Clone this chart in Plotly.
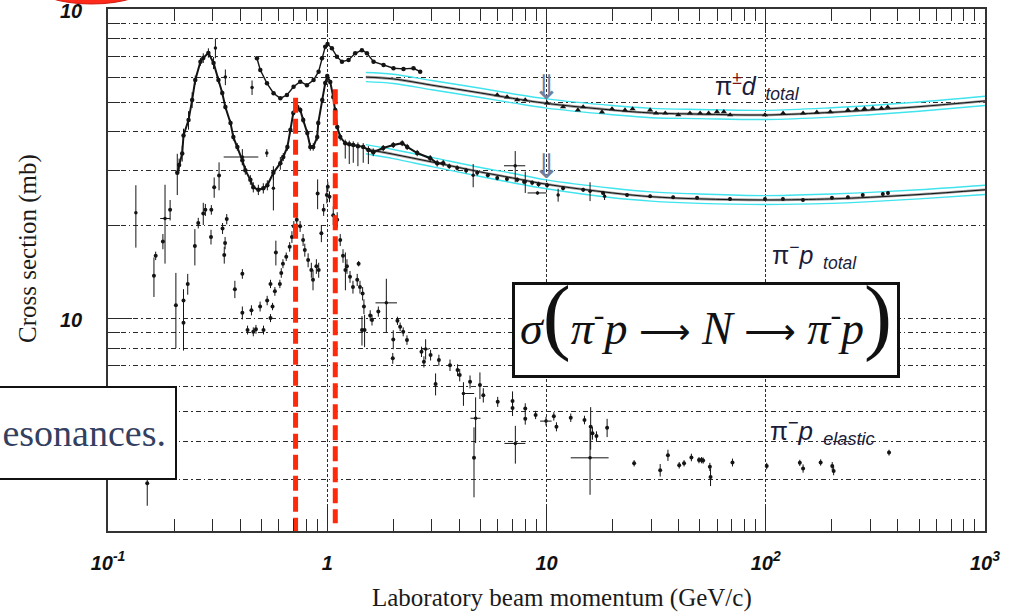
import math
import plotly.graph_objects as go

# ---------------- data ----------------
# pi- p total cross section, dense low-energy part (GeV/c, mb)
pim_tot_p = [0.207, 0.211, 0.218, 0.221, 0.233, 0.242, 0.250, 0.264, 0.272, 0.287,
             0.303, 0.319, 0.332, 0.343, 0.362, 0.373, 0.389, 0.410, 0.423, 0.446,
             0.460, 0.485, 0.511, 0.533, 0.568, 0.611, 0.630, 0.658, 0.679, 0.700,
             0.730, 0.753, 0.777, 0.811, 0.837, 0.863, 0.900, 0.910, 0.949, 0.979,
             1.000, 1.032, 1.065, 1.088, 1.111, 1.146, 1.208, 1.26, 1.314, 1.38,
             1.459, 1.54, 1.621, 1.800, 2.000, 2.197, 2.315, 2.572, 2.948, 3.172,
             3.379]
pim_tot_sig = [29.5, 31.3, 34.1, 39.0, 43.7, 50.8, 58.9, 67.5, 69.4, 72.1,
               66.9, 58.9, 53.5, 48.2, 42.8, 38.5, 35.8, 32.4, 30.1, 28.0,
               26.5, 26.0, 26.3, 26.9, 29.5, 31.7, 33.2, 35.8, 40.6, 46.1,
               48.2, 47.1, 43.7, 39.7, 35.8, 35.8, 38.5, 42.8, 50.8, 57.6,
               60.7, 58.0, 51.9, 47.1, 41.5, 38.5, 36.8, 36.5, 36.3, 36.0,
               35.8, 35.0, 34.4, 35.5, 36.3, 36.8, 35.8, 34.2, 32.9, 31.7,
               31.7]
pim_tot_err_dn = [4.5, 1.5, 2.0, 2.0, 3.0, 3.0, 2.0, 2.0, 2.5, 2.5,
                  3.0, 1.5, 1.0, 1.0, 1.0, 1.0, 1.0, 1.0, 1.0, 1.0,
                  1.0, 1.0, 1.0, 1.0, 1.5, 1.5, 1.0, 1.0, 1.0, 1.0,
                  1.0, 1.0, 1.0, 1.0, 1.0, 1.0, 1.0, 1.0, 1.0, 1.0,
                  1.0, 1.0, 1.0, 1.0, 1.0, 1.0, 4.0, 5.0, 4.5, 5.0,
                  4.0, 3.5, 1.0, 0.8, 0.8, 0.8, 0.8, 0.8, 0.8, 0.8,
                  0.8]
pim_tot_err_up = [4.5, 1.5, 2.0, 2.0, 3.0, 3.0, 2.0, 2.0, 2.5, 2.5,
                  3.0, 1.5, 1.0, 1.0, 1.0, 1.0, 1.0, 1.0, 1.0, 1.0,
                  1.0, 1.0, 1.0, 1.0, 1.5, 1.5, 1.0, 1.0, 1.0, 1.0,
                  1.0, 1.0, 1.0, 1.0, 1.0, 1.0, 1.0, 1.0, 1.0, 1.0,
                  1.0, 1.0, 1.0, 1.0, 1.0, 1.0, 1.0, 1.0, 1.0, 1.0,
                  1.0, 1.0, 1.0, 0.8, 0.8, 0.8, 0.8, 0.8, 0.8, 0.8,
                  0.8]

# pi- p total, higher momenta
pim_tot_hi_p = [3.6, 3.913, 4.3, 4.83, 5.4, 5.96, 6.6, 7.35, 7.9, 8.60,
                9.2, 10.06, 11.9, 14.7, 18.1, 23.3, 29.7, 37.8, 48.6, 68.7,
                99.2, 119.8, 147.8, 200.4, 237, 277, 342, 361]
pim_tot_hi_sig = [31.0, 30.6, 30.0, 29.5, 29.0, 28.4, 28.2, 28.0, 27.6, 27.4,
                  27.1, 26.9, 26.3, 26.0, 25.4, 25.0, 24.8, 24.6, 24.5, 24.3,
                  24.3, 24.3, 24.1, 24.5, 24.6, 25.0, 25.2, 25.4]
pim_tot_hi_err = [0.6, 0.6, 0.6, 0.6, 0.5, 0.5, 0.5, 0.5, 0.5, 0.5,
                  0.5, 0.5, 0.4, 0.4, 0.3, 0.3, 0.3, 0.3, 0.3, 0.3,
                  0.3, 0.3, 0.3, 0.3, 0.3, 0.3, 0.3, 0.3]

# isolated total-cross-section points with larger errors
tot_x_p = [0.134, 0.309, 0.343, 0.410, 0.454, 0.530, 0.568, 4.63, 7.2, 8.0, 9.1, 11.3, 15.8, 18.4]
tot_x_sig = [21.9, 74.8, 60.2, 33.2, 55.7, 34.2, 26.3, 29.0, 31.1, 27.6, 25.4, 25.0, 25.7, 24.8]
tot_x_err = [5.0, 5.5, 3.5, 2.0, 3.0, 1.0, 4.0, 2.5, 3.6, 2.2, 0.3, 1.2, 1.8, 0.7]
tot_x_xlo = [0, 0, 0, 0.073, 0, 0, 0, 0, 0.8, 0, 0.9, 0, 0, 0]
tot_x_xhi = [0, 0, 0, 0.075, 0, 0, 0, 0, 0.8, 0, 0.9, 0, 0, 0]

# pi+- d total cross section
pid_lo_p = [0.478, 0.495, 0.531, 0.569, 0.611, 0.655, 0.702, 0.753, 0.808, 0.866,
            0.913, 0.946, 0.979, 1.003, 1.05, 1.107, 1.167, 1.251, 1.341, 1.439,
            1.517, 1.626, 1.806, 2.005, 2.227, 2.474, 2.654]
pid_lo_sig = [69.3, 63.5, 57.5, 53.4, 51.4, 52.7, 56.0, 58.2, 56.7, 58.9,
              62.7, 69.3, 75.5, 77.0, 74.6, 70.1, 67.5, 68.4, 71.9, 73.6,
              71.9, 67.5, 65.9, 64.3, 64.0, 64.3, 62.7]
pid_hi_p = [5.96, 6.61, 7.35, 8.0, 10.06, 11.9, 13.9, 14.7, 17.9, 19.9,
            22.8, 24.7, 29.7, 31.6, 34.8, 39.9, 45.1, 50.2, 54.9, 59.9,
            64.4, 68.8, 99.2, 120, 148, 171, 197, 237, 259, 282,
            308, 337, 360]
pid_hi_sig = [52.7, 51.9, 50.8, 50.8, 49.6, 48.2, 47.1, 48.2, 46.4, 47.5,
              47.1, 47.5, 47.1, 46.0, 46.0, 45.4, 46.0, 46.0, 46.0, 46.5,
              46.5, 45.4, 45.4, 46.0, 46.0, 46.3, 46.5, 47.1, 47.3, 47.6,
              47.7, 47.7, 48.1]

# pi- p elastic cross section
el_p = [0.151, 0.162, 0.165, 0.178, 0.192, 0.204, 0.221, 0.221, 0.231, 0.249,
        0.258, 0.272, 0.278, 0.296, 0.295, 0.305, 0.321, 0.333, 0.348, 0.342,
        0.339, 0.379, 0.410, 0.410, 0.433, 0.451, 0.460, 0.473, 0.494, 0.512,
        0.532, 0.551, 0.551, 0.563, 0.577, 0.583, 0.608, 0.617, 0.628, 0.650,
        0.674, 0.690, 0.704, 0.726, 0.752, 0.776, 0.790, 0.818, 0.846, 0.861,
        0.892, 0.914, 0.904, 0.940, 0.963, 0.996, 1.006, 1.024, 1.065, 1.11,
        1.146, 1.18, 1.21, 1.23, 1.27, 1.31, 1.37, 1.39, 1.41, 1.44,
        1.45, 1.47, 1.48, 1.57, 1.60, 1.71, 1.99, 2.00, 2.09, 2.15,
        2.22, 2.31, 2.69, 2.76, 2.96, 3.12, 3.23, 3.63, 3.93, 4.02,
        4.48, 4.67, 4.97, 5.15, 5.99, 7.0, 7.0, 8.0, 8.0, 8.92,
        10.8, 11.1, 12.9, 14.9, 15.9, 16.2, 16.9, 18.9, 25.1, 33.0,
        35.8, 40.3, 42.4, 45.8, 49.6, 50.9, 51.8, 55.6, 56.0, 70.5,
        101, 143, 148, 178, 201, 204, 365]
el_sig = [2.92, 13.7, 15.9, 17.7, 22.4, 11.0, 11.4, 9.65, 12.9, 17.1,
          20.3, 21.8, 22.4, 22.4, 18.3, 26.5, 28.9, 19.5, 20.9, 17.5,
          16.0, 12.4, 13.9, 10.4, 9.15, 10.6, 9.03, 9.2, 10.9, 9.15,
          11.4, 12.9, 10.0, 10.9, 12.2, 16.3, 12.9, 14.0, 15.0, 15.8,
          17.0, 18.3, 19.8, 20.8, 19.8, 17.9, 16.6, 15.4, 14.3, 13.3,
          14.7, 14.3, 25.3, 18.8, 22.4, 25.0, 26.6, 24.7, 21.5, 20.8,
          17.9, 15.9, 14.3, 14.7, 13.6, 12.6, 13.3, 15.0, 12.6, 9.15,
          12.0, 10.9, 9.15, 10.2, 9.86, 10.5, 7.41, 8.53, 9.80, 9.37,
          9.03, 8.49, 7.78, 7.22, 7.59, 6.12, 7.31, 7.04, 6.79, 6.54,
          6.22, 3.53, 6.07, 5.63, 5.36, 5.39, 5.12, 5.10, 4.72, 4.86,
          4.81, 4.45, 4.76, 4.68, 4.45, 4.24, 4.15, 4.42, 3.39, 3.22,
          3.60, 3.34, 3.39, 3.54, 3.47, 3.47, 3.46, 3.30, 3.06, 3.41,
          3.32, 3.40, 3.26, 3.41, 3.32, 3.20, 3.67]
el_err = [0.45, 2.0, 0.5, 1.0, 1.7, 3.0, 1.0, 1.8, 1.0, 2.3,
          0.8, 1.8, 1.0, 0.8, 1.0, 2.0, 3.0, 0.8, 0.8, 0.8,
          1.0, 0.8, 0.5, 0.5, 0.3, 0.4, 0.3, 0.3, 0.4, 0.3,
          0.4, 0.4, 0.3, 0.3, 0.4, 1.5, 0.4, 0.5, 0.5, 0.5,
          0.6, 0.8, 0.8, 0.8, 0.8, 0.8, 0.8, 0.8, 0.8, 1.0,
          0.8, 0.8, 2.8, 1.2, 1.0, 1.5, 1.0, 1.0, 1.5, 1.2,
          0.8, 0.8, 2.0, 0.8, 0.6, 0.6, 0.6, 0.3, 0.6, 1.0,
          0.6, 0.6, 1.1, 0.4, 0.4, 0.4, 0.3, 0.6, 0.3, 0.3,
          0.3, 0.3, 0.3, 0.3, 0.3, 0.5, 0.3, 0.3, 0.3, 0.3,
          0.3, 0.9, 0.6, 0.3, 0.2, 0.4, 0.3, 0.2, 0.2, 0.15,
          0.15, 0.15, 0.15, 0.15, 0.7, 0.2, 0.15, 0.3, 0.08, 0.15,
          0.15, 0.08, 0.08, 0.1, 0.08, 0.08, 0.08, 0.1, 0.2, 0.1,
          0.08, 0.08, 0.1, 0.08, 0.1, 0.1, 0.08]
# elastic points that also carry momentum errors
elx_p = [0.182, 1.86, 2.81, 4.18, 4.75, 7.21, 9.95, 15.8]
elx_sig = [21.0, 11.2, 7.94, 5.70, 4.74, 3.93, 4.64, 3.53]
elx_err = [6.0, 2.2, 0.6, 0.5, 0.8, 0.55, 0.15, 0.85]
elx_xlo = [0.009, 0.20, 0.12, 0.0, 0.25, 0.78, 0.6, 2.9]
elx_xhi = [0.010, 0.22, 0.10, 0.5, 0.25, 0.80, 0.6, 3.4]

# fits with their uncertainty bands
fit_p = [1.5, 2, 3, 5, 7, 10, 20, 30, 50, 100, 200, 300, 500, 1000]
pid_fit = [60.2, 59.4, 56.7, 53.5, 51.4, 49.5, 47.1, 46.1, 45.7, 45.4, 46.3, 47.1, 48.3, 50.4]
pid_fit_hi = [62.3, 61.5, 58.7, 55.4, 53.2, 51.2, 48.7, 47.7, 47.3, 47.0, 47.9, 48.7, 50.0, 52.2]
pid_fit_lo = [58.2, 57.4, 54.8, 51.7, 49.7, 47.8, 45.5, 44.5, 44.2, 43.9, 44.7, 45.5, 46.7, 48.7]
pim_fit = [35.2, 33.9, 32.0, 29.7, 28.4, 27.1, 25.4, 24.7, 24.3, 24.1, 24.3, 24.6, 25.1, 26.0]
pim_fit_hi = [36.4, 35.1, 33.1, 30.7, 29.4, 28.0, 26.3, 25.6, 25.2, 24.9, 25.2, 25.5, 26.0, 26.9]
pim_fit_lo = [34.0, 32.8, 30.9, 28.7, 27.4, 26.2, 24.5, 23.9, 23.5, 23.3, 23.5, 23.8, 24.3, 25.1]

# resonance markers (red dashed lines)
res_p = [0.717, 1.088]
res_top = [51.6, 55.0]
res_bottom = [2.0, 2.17]

# arrows at 10 GeV/c
arrow_p = 10
arrow_tip = [51.5, 28.6]

# axis ticks
x_major = [0.1, 1, 10, 100, 1000]
x_major_text = ["10<sup>-1</sup>", "1", "10", "10<sup>2</sup>", "10<sup>3</sup>"]
x_minor = [m * d for d in (0.1, 1, 10, 100) for m in range(2, 10)]
y_major = [10, 100]
y_major_text = ["10", "10"]
y_minor = [3, 4, 5, 6, 7, 8, 9, 20, 30, 40, 50, 60, 70, 80, 90]

# ---------------- figure ----------------
INK = "#141414"
fig = go.Figure()


def errbar(arr, arrminus=None):
    d = dict(type="data", array=arr, color=INK, thickness=1, width=0, visible=True)
    if arrminus is not None:
        d["symmetric"] = False
        d["arrayminus"] = arrminus
    return d


# fits + bands
for lo, c, hi in [(pid_fit_lo, pid_fit, pid_fit_hi), (pim_fit_lo, pim_fit, pim_fit_hi)]:
    for band in (hi, lo):
        fig.add_trace(go.Scatter(x=fit_p, y=band, mode="lines",
                                 line=dict(color="#3fe4ee", width=1.4, shape="spline")))
    fig.add_trace(go.Scatter(x=fit_p, y=c, mode="lines",
                             line=dict(color="#9a9a9a", width=2.6, shape="spline")))
    fig.add_trace(go.Scatter(x=fit_p, y=c, mode="lines",
                             line=dict(color=INK, width=1, shape="spline")))

# pi- p total
fig.add_trace(go.Scatter(x=pim_tot_p, y=pim_tot_sig, mode="lines+markers",
                         line=dict(color=INK, width=2),
                         marker=dict(color=INK, size=4.5),
                         error_y=errbar(pim_tot_err_up, pim_tot_err_dn)))
fig.add_trace(go.Scatter(x=pim_tot_hi_p, y=pim_tot_hi_sig, mode="markers",
                         marker=dict(color=INK, size=4),
                         error_y=errbar(pim_tot_hi_err)))
fig.add_trace(go.Scatter(x=tot_x_p, y=tot_x_sig, mode="markers",
                         marker=dict(color=INK, size=3.5),
                         error_y=errbar(tot_x_err),
                         error_x=dict(type="data", symmetric=False, array=tot_x_xhi,
                                      arrayminus=tot_x_xlo, color=INK, thickness=1, width=0)))

# pi d total
fig.add_trace(go.Scatter(x=pid_lo_p, y=pid_lo_sig, mode="lines+markers",
                         line=dict(color=INK, width=1.4),
                         marker=dict(color=INK, size=4.5)))
fig.add_trace(go.Scatter(x=pid_hi_p, y=pid_hi_sig, mode="markers",
                         marker=dict(color=INK, size=5.5, symbol="triangle-up")))

# pi- p elastic
fig.add_trace(go.Scatter(x=el_p, y=el_sig, mode="markers",
                         marker=dict(color=INK, size=4),
                         error_y=errbar(el_err)))
fig.add_trace(go.Scatter(x=elx_p, y=elx_sig, mode="markers",
                         marker=dict(color=INK, size=3.5),
                         error_y=errbar(elx_err),
                         error_x=dict(type="data", symmetric=False, array=elx_xhi,
                                      arrayminus=elx_xlo, color=INK, thickness=1, width=0)))

# resonance lines
for p, top, bot in zip(res_p, res_top, res_bottom):
    fig.add_trace(go.Scatter(x=[p, p], y=[top, bot], mode="lines",
                             line=dict(color="#ff2a0a", width=5, dash="15px,6px")))

tickfont = dict(family="Liberation Sans", size=20, color="#111", weight="bold", style="italic")
GRID = "#2a2a2a"

fig.update_layout(
    width=1021, height=613,
    margin=dict(l=108, r=36, t=9, b=82),
    paper_bgcolor="white", plot_bgcolor="white",
    showlegend=False, hovermode=False,
    xaxis=dict(type="log", range=[-1, 3], tickmode="array", tickvals=x_major,
               ticktext=x_major_text, ticks="inside", ticklen=24, tickwidth=1.2,
               tickcolor=GRID, showline=True, linecolor="#333", linewidth=1.5,
               mirror="allticks", showgrid=True, gridcolor=GRID, gridwidth=1,
               griddash="3px,2px", zeroline=False, tickfont=tickfont,
               ticklabelstandoff=13, automargin=False, ticklabeloverflow="allow",
               minor=dict(tickmode="array", tickvals=x_minor, ticks="inside",
                          ticklen=12, tickwidth=1.2, tickcolor=GRID, showgrid=False)),
    yaxis=dict(type="log", range=[0.311, 2.0], tickmode="array", tickvals=y_major,
               ticktext=y_major_text, ticks="inside", ticklen=24, tickwidth=1.2,
               tickcolor=GRID, showline=True, linecolor="#333", linewidth=1.5,
               mirror=True, showgrid=True, gridcolor=GRID, gridwidth=1,
               griddash="5px,3px,1.5px,3px", zeroline=False, tickfont=tickfont,
               ticklabelstandoff=20, ticklabelshift=2, automargin=False,
               ticklabeloverflow="allow",
               minor=dict(tickmode="array", tickvals=y_minor, ticks="inside",
                          ticklen=12, tickwidth=1.2, tickcolor=GRID, showgrid=True,
                          gridcolor=GRID, gridwidth=1, griddash="5px,3px,1.5px,3px")),
)

LABEL = "#1c1c3a"
ann = []
# curve labels
ann.append(dict(xref="paper", yref="paper", x=0.6900, y=0.852, xanchor="left", yanchor="middle",
                text='π<sup><span style="color:#7a1010">±</span></sup><i>d</i><sub><i>  total</i></sub>',
                showarrow=False, font=dict(family="Liberation Sans", size=25, color=LABEL)))
ann.append(dict(xref="paper", yref="paper", x=0.7549, y=0.528, xanchor="left", yanchor="middle",
                text='π<sup>−</sup><i>p</i><sub><i>  total</i></sub>',
                showarrow=False, font=dict(family="Liberation Sans", size=25, color=LABEL)))
ann.append(dict(xref="paper", yref="paper", x=0.7526, y=0.192, xanchor="left", yanchor="middle",
                text='π<sup>−</sup><i>p</i><sub><i>  elastic</i></sub>',
                showarrow=False, font=dict(family="Liberation Sans", size=26, color=LABEL)))
# arrows at 10 GeV/c
for tip in arrow_tip:
    ann.append(dict(xref="x", yref="y", x=math.log10(arrow_p), y=math.log10(tip),
                    xanchor="center", yanchor="bottom", yshift=-11, text="⇓", showarrow=False,
                    font=dict(family="DejaVu Sans", size=34, color="#6f7f9c")))
# formula box (frame) and formula text
ann.append(dict(xref="paper", yref="paper", x=0.6819, y=0.3851, xanchor="center", yanchor="middle",
                width=382, height=90, borderwidth=3, borderpad=0, bordercolor="#111",
                bgcolor="white", showarrow=False, text=" ",
                font=dict(family="Liberation Serif", size=10, color="#111")))
ann.append(dict(xref="paper", yref="paper", x=0.6819, y=(531 - 316) / 522, xanchor="center",
                yanchor="middle", showarrow=False,
                text='<i>σ</i><span style="font-size:84px">(</span><i>π</i><sup>-</sup><i>p</i> '
                     '<span style="font-family:DejaVu Sans;font-size:36px">⟶</span> <i>N</i> '
                     '<span style="font-family:DejaVu Sans;font-size:36px">⟶</span> '
                     '<i>π</i><sup>-</sup><i>p</i><span style="font-size:84px">)</span>',
                font=dict(family="Liberation Serif", size=46, color="#111")))
# cut-off caption box at left
ann.append(dict(xref="paper", yref="paper", x=(27 - 108) / 877, y=(531 - 433) / 522,
                xanchor="center", yanchor="middle", width=278, height=72,
                borderwidth=2, borderpad=9, bordercolor="#111", bgcolor="white",
                align="right", showarrow=False, text="esonances.",
                font=dict(family="Liberation Serif", size=38, color="#33405f")))
# axis titles
ann.append(dict(xref="paper", yref="paper", x=(562 - 108) / 877, y=(531 - 598) / 522,
                xanchor="center", yanchor="middle", showarrow=False,
                text="Laboratory beam momentum (GeV/c)",
                font=dict(family="Liberation Serif", size=25, color="#1a1a1a")))
ann.append(dict(xref="paper", yref="paper", x=(28 - 108) / 877, y=(531 - 249) / 522,
                xanchor="center", yanchor="middle", showarrow=False, textangle=-90,
                text="Cross section (mb)",
                font=dict(family="Liberation Serif", size=25, color="#1a1a1a")))
fig.update_layout(annotations=ann)

# red highlight blob at top-left corner
fig.add_shape(type="circle", xref="paper", yref="paper",
              x0=(33 - 108) / 877, x1=(150 - 108) / 877,
              y0=(531 - 4) / 522, y1=(531 + 36) / 522,
              fillcolor="#ff2a1a", line=dict(color="#d01a10", width=1), layer="above")

fig.write_html("out.html")
